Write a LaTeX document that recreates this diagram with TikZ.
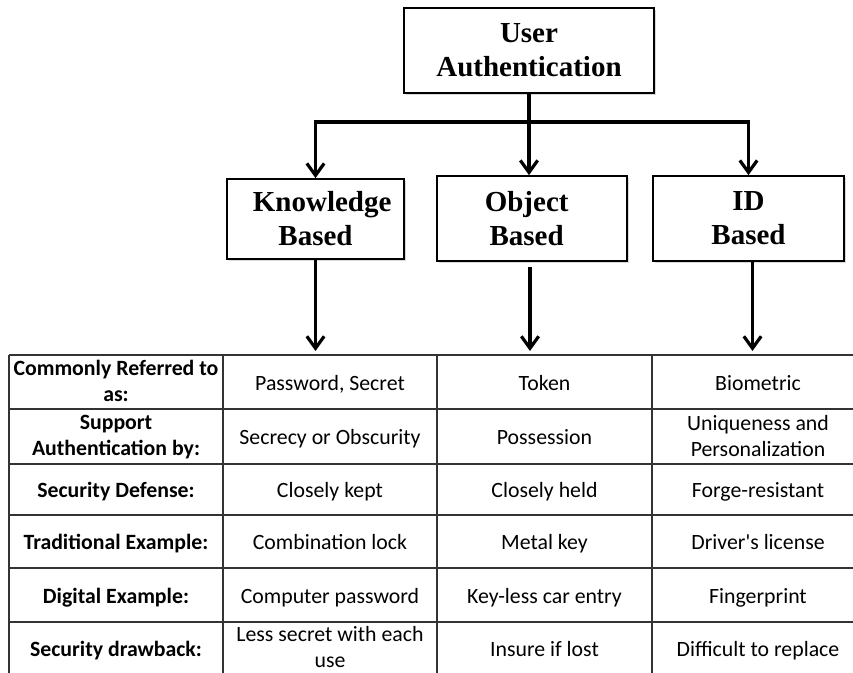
\documentclass[tikz,border=0pt]{standalone}
\usepackage{fontspec}
\setmainfont{Liberation Serif}
\newfontfamily\cellfont{Carlito}
\usetikzlibrary{arrows.meta}
\usetikzlibrary{shadows}

\begin{document}
\begin{tikzpicture}[x=0.75pt, y=-0.75pt,
    >={Straight Barb[length=9pt, width=13pt]},
    catbox/.style={draw, line width=1.3pt, fill=white, align=center,
        font=\fontsize{21.75}{25.5}\selectfont\bfseries,
        drop shadow={shadow xshift=1.2pt, shadow yshift=-1.2pt, opacity=0.3}},
    conn/.style={line width=2.4pt, ->},
    grid/.style={line width=0.9pt, black!80},
    cell/.style={align=center, font=\cellfont\fontsize{16.35}{19.5}\selectfont,
        execute at begin node=\strut, execute at end node=\strut},
    rowhead/.style={cell, font=\cellfont\bfseries\fontsize{16.35}{19.5}\selectfont}]
    \useasboundingbox (0,0) rectangle (853,673);

    % top of the hierarchy
    \node[catbox, minimum width=187.5pt, minimum height=63.75pt] (ua) at (529,50.5) {User\\Authentication};

    % the three kinds
    \node[catbox, minimum width=132.75pt, minimum height=60pt] (kb) at (315.5,219) {\hspace*{10pt}Knowledge\\Based};
    \node[catbox, minimum width=142.5pt, minimum height=63.75pt] (ob) at (532,218.5) {\hspace*{-8pt}Object\\\hspace*{-8pt}Based};
    \node[catbox, minimum width=143.25pt, minimum height=63.75pt] (id) at (748.5,218.5) {ID\\Based};

    % branching arrows
    \coordinate (bus) at (530,122);
    \draw[conn] (ua.south) -- (ua.south |- ob.north);
    \draw[line width=2.4pt, <->] (kb.north) |- (bus) -| (id.north);

    % arrows into the table
    \coordinate (tabtop) at (0,351);
    \draw[conn] (kb.south) -- (kb.south |- tabtop);
    \draw[conn] ([xshift=-1.5pt, yshift=-4pt]ob.south) -- ([xshift=-1.5pt]ob.south |- tabtop);
    \draw[conn] ([xshift=3pt]id.south) -- ([xshift=3pt]id.south |- tabtop);

    % table rules
    \foreach \y in {355,409,464,515,568,622}
        \draw[grid] (9,\y) -- (853,\y);
    \foreach \x in {9,223,437,652}
        \draw[grid] (\x,355) -- (\x,673);

    % table cells
    \foreach \y/\head/\kc/\oc/\ic [count=\r] in {
        385/{Commonly Referred to\\as:}/{Password, Secret}/Token/Biometric,
        439.5/{Support\\Authentication by:}/{Secrecy or Obscurity}/Possession/{Uniqueness and\\Personalization},
        492.5/{Security Defense:}/{Closely kept}/{Closely held}/{Forge-resistant},
        544.5/{Traditional Example:}/{Combination lock}/{Metal key}/{Driver's license},
        598/{Digital Example:}/{Computer password}/{Key-less car entry}/Fingerprint,
        651/{Security drawback:}/{Less secret with each\\use}/{Insure if lost}/{Difficult to replace}} {
        \node[rowhead] (h\r) at (116,\y) {\head};
        \node[cell] (k\r) at (330,\y) {\kc};
        \node[cell] (o\r) at (544.5,\y) {\oc};
        \node[cell] (i\r) at (758,\y) {\ic};
    }
\end{tikzpicture}
\end{document}
